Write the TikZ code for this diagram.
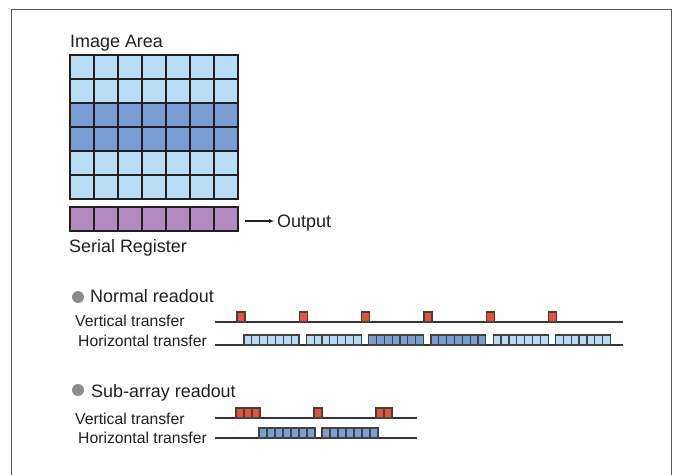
\documentclass[tikz,border=0pt]{standalone}
\usepackage{fontspec}
\setmainfont{Liberation Sans}
\usepackage{tikz}
\usetikzlibrary{arrows.meta,calc,positioning}
\definecolor{pixLight}{RGB}{184,220,243}
\definecolor{pixDark}{RGB}{122,157,211}
\definecolor{serial}{RGB}{180,138,194}
\definecolor{pulse}{RGB}{232,80,56}
\definecolor{ink}{RGB}{35,31,32}
\newcommand{\Cols}{7}
\newcommand{\Rows}{6}
\newcommand{\Pix}{24}
\tikzset{
  cell/.style={draw=ink, line width=1.6pt},
  lightPix/.style={fill=pixLight},   % plain rows
  darkPix/.style={fill=pixDark},     % sub-array rows
  regPix/.style={fill=serial},       % serial register
  outline/.style={draw=ink, line width=2.2pt},
  redBox/.style={draw=ink!85, fill=pulse, line width=1.2pt},
  blueBox/.style={draw=ink!85, line width=1.2pt},
  timeLine/.style={draw=ink!90, line width=1.1pt},
  panel/.style={draw=ink!75, line width=0.9pt},
  headText/.style={anchor=base west, inner sep=0pt, font=\fontsize{18}{20}\selectfont, text=ink},
  smallText/.style={anchor=base west, inner sep=0pt, font=\fontsize{15.8}{18}\selectfont, text=ink},
  dot/.style={circle, fill=black!45, minimum size=12pt, inner sep=0pt},
  outArrow/.style={-{Latex[length=5pt,width=4.5pt]}, draw=ink, line width=1.1pt}
}
\newcommand{\DrawImageArea}{%
  \foreach \c in {1,...,\Cols}{%
    \foreach \r in {1,...,\Rows}{%
      \pgfmathtruncatemacro{\dark}{(\r==3 || \r==4) ? 1 : 0}%
      \ifnum\dark=1 \def\pixstyle{darkPix}\else\def\pixstyle{lightPix}\fi
      \draw[cell,\pixstyle] ({70+\Pix*(\c-1)},{55+\Pix*(\r-1)}) rectangle ++(\Pix,\Pix);
    }%
  }%
  \draw[outline] (70,55) rectangle ++({\Cols*\Pix},{\Rows*\Pix});
}
\newcommand{\DrawRegister}{%
  \foreach \c in {1,...,\Cols}{%
    \draw[cell,regPix] ({70+\Pix*(\c-1)},207) rectangle ++(\Pix,\Pix);
  }%
  \draw[outline] (70,207) rectangle ++({\Cols*\Pix},\Pix);
}
\newcommand{\Pulses}[3]{% #1=x, #2=baseline y, #3=count
  \foreach \i in {1,...,#3}{%
    \draw[redBox] ({(#1)+8*(\i-1)},#2) rectangle ++(8,-10);
  }%
}
\newcommand{\HGroup}[4]{% #1=x, #2=baseline y, #3=cell width, #4=style
  \foreach \i in {1,...,7}{%
    \draw[blueBox,#4] ({(#1)+#3*(\i-1)},#2) rectangle ++(#3,-10);
  }%
}

\begin{document}
\begin{tikzpicture}[x=1bp,y=-1bp]
  \useasboundingbox (0,0) rectangle (675,475);
  \draw[panel] (11,476) -- (11,9) -- (671,9) -- (671,476);

  % CCD + serial register
  \node[headText] (imgLbl) at (70,47.5) {Image Area};
  \DrawImageArea
  \DrawRegister
  \node[headText] (regLbl) at (69,252.5) {Serial Register};
  \coordinate (regOut) at (245,221);
  \node[headText] (outLbl) at (277,228) {Output};
  \draw[outArrow] (regOut) -- ([xshift=-3pt]outLbl.west |- regOut);

  % --- Normal readout ---
  \node[dot] (dotA) at (78,297) {};
  \node[headText] (normLbl) at (90,302.5) {Normal readout};
  \node[smallText] (vLblA) at (75,326.5) {Vertical transfer};
  \node[smallText] (hLblA) at (78,346) {Horizontal transfer};
  \draw[timeLine] (215,322) -- (623,322);
  \draw[timeLine] (215,345) -- (623,345);
  \foreach \k/\s in {0/lightPix,1/lightPix,2/darkPix,3/darkPix,4/lightPix,5/lightPix}{%
    \Pulses{237+62.3*\k}{322}{1}
    \HGroup{244+62.3*\k}{345}{7.85}{\s}
  }

  % --- Sub-array readout ---
  \node[dot] (dotB) at (78,390) {};
  \node[headText] (subLbl) at (91,397.5) {Sub-array readout};
  \node[smallText] (vLblB) at (75,424) {Vertical transfer};
  \node[smallText] (hLblB) at (78,443) {Horizontal transfer};
  \draw[timeLine] (215,418) -- (417,418);
  \draw[timeLine] (215,438) -- (417,438);
  \Pulses{236}{418}{3}
  \Pulses{314}{418}{1}
  \Pulses{376}{418}{2}
  \HGroup{259}{438}{8}{darkPix}
  \HGroup{322}{438}{8}{darkPix}
\end{tikzpicture}
\end{document}
